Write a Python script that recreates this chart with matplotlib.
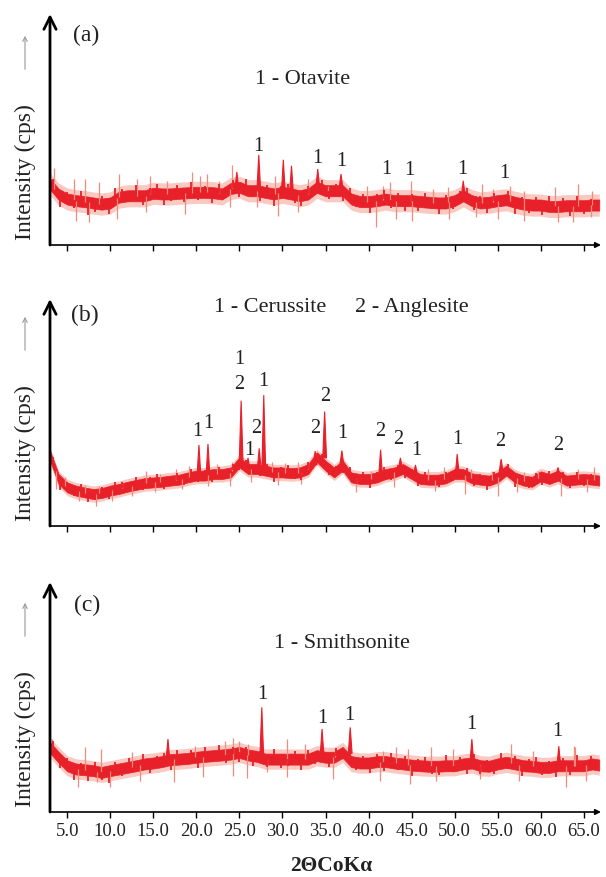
import numpy as np
import matplotlib
matplotlib.use('Agg')
import matplotlib.pyplot as plt

plt.rcParams['font.family'] = ['Liberation Serif', 'DejaVu Serif']

x_grid = list(range(3, 67)) + [66.8]

# band centre of each pattern, arbitrary intensity units (axis = 0..100)
a_mid = [26.4, 22.0, 19.9, 19.2, 18.8, 18.2, 17.7, 18.2, 20.7, 21.3, 21.3, 21.3, 22.4, 22.1,
         22.1, 22.4, 22.6, 22.8, 22.8, 22.6, 22.1, 24.5, 25.0, 23.5, 23.5, 22.8, 22.1, 22.8,
         22.1, 21.3, 22.1, 25.0, 23.5, 23.5, 23.5, 19.9, 18.8, 18.8, 19.2, 19.9, 19.2, 19.2,
         19.2, 18.8, 18.5, 18.2, 18.2, 19.2, 21.3, 19.2, 18.2, 18.5, 19.2, 19.6, 18.5, 17.7,
         17.3, 17.3, 16.7, 16.7, 17.0, 17.0, 17.0, 17.3, 17.3]
b_mid = [31.0, 20.7, 17.0, 15.6, 14.8, 14.1, 14.5, 15.6, 16.3, 17.3, 18.1, 18.9, 19.2, 19.5,
         20.0, 20.4, 21.4, 22.2, 22.2, 22.9, 22.9, 23.6, 28.0, 25.1, 25.1, 24.4, 23.6, 23.6,
         23.3, 23.6, 25.1, 30.3, 26.6, 23.6, 26.6, 21.4, 20.7, 20.7, 21.4, 22.9, 23.6, 25.1,
         22.9, 20.7, 20.4, 20.4, 21.0, 22.9, 22.9, 21.0, 20.4, 20.0, 21.4, 24.4, 21.4, 20.0,
         19.5, 21.9, 20.7, 22.2, 20.0, 20.4, 20.7, 20.4, 20.0]
c_mid = [28.0, 23.8, 20.1, 18.7, 18.4, 18.0, 17.2, 18.0, 18.7, 19.4, 20.1, 20.9, 21.3, 21.9,
         22.8, 23.0, 23.3, 23.8, 24.2, 24.5, 24.8, 25.2, 25.9, 24.8, 24.2, 23.0, 23.0, 23.0,
         23.0, 23.0, 23.0, 24.5, 23.8, 23.8, 25.9, 21.9, 21.3, 21.3, 21.9, 21.9, 21.3, 20.9,
         20.4, 20.1, 19.9, 19.9, 20.1, 20.1, 20.9, 21.3, 20.1, 19.9, 20.9, 21.6, 20.9, 20.1,
         19.9, 19.4, 19.4, 20.1, 20.1, 20.1, 20.1, 20.9, 20.4]

# diffraction peaks: position, base, top
a_peaks = [(24.7, 24.5, 31.6), (27.25, 23.5, 39.0), (30.1, 22.8, 36.9), (31.05, 22.5, 34.3),
           (34.1, 24.5, 32.9), (36.8, 24.5, 30.7), (51.0, 21.0, 27.8)]
b_peaks = [(20.3, 22.2, 35.7), (21.35, 22.2, 36.1), (25.2, 28.0, 55.2), (26.0, 25.1, 30.0),
           (27.3, 25.1, 34.2), (27.83, 25.0, 57.7), (33.8, 27.0, 33.0), (34.9, 30.0, 50.4),
           (36.9, 27.0, 33.2), (41.4, 22.0, 33.6), (43.7, 25.5, 30.0), (45.45, 22.9, 26.9),
           (50.3, 22.9, 31.7), (55.4, 24.0, 29.5), (62.0, 22.2, 25.8)]
c_peaks = [(16.7, 22.5, 31.7), (27.6, 24.0, 45.5), (34.6, 24.5, 36.1), (37.87, 25.5, 36.8),
           (52.0, 21.3, 31.7), (62.1, 20.1, 28.6)]

# longer noise spikes sticking out of the band: position, tip
a_spikes = [(3.45, 33.2), (5.77, 28.6), (7.1, 28.6), (8.67, 27.1), (11.0, 30.7), (13.1, 28.6),
            (14.66, 30.0), (16.6, 27.8), (19.5, 31.5), (20.45, 30.0), (21.2, 30.7), (22.6, 27.8),
            (24.1, 34.5), (29.1, 30.0), (33.0, 28.6), (35.3, 25.7), (39.8, 25.7), (41.7, 25.7),
            (42.5, 27.1), (44.9, 27.8), (47.5, 24.2), (49.2, 24.9), (53.2, 26.4), (54.4, 24.2),
            (56.4, 25.7), (58.1, 23.4), (61.6, 24.9), (64.3, 26.4), (66.0, 23.4),
            (5.97, 10.5), (7.5, 9.8), (10.8, 11.3), (14.1, 14.1), (18.7, 13.4), (23.9, 16.3),
            (27.0, 16.3), (29.5, 12.7), (31.8, 14.1), (40.9, 7.6), (43.2, 11.3), (45.1, 10.5),
            (49.4, 11.3), (52.5, 12.0), (55.0, 11.3), (58.1, 10.5), (62.0, 9.8), (63.7, 9.8),
            (65.8, 12.0)]
b_spikes = [(4.8, 21.4), (7.1, 18.1), (8.7, 17.7), (11.4, 20.0), (14.1, 24.4), (15.8, 22.9),
            (17.6, 25.1), (19.1, 26.6), (22.4, 27.3), (24.1, 28.0), (28.8, 28.0), (30.3, 27.6),
            (31.8, 28.0), (33.0, 28.0), (40.3, 24.4), (46.9, 25.1), (48.8, 25.8), (51.9, 25.1),
            (54.3, 24.4), (58.1, 23.6), (59.7, 24.4), (64.3, 25.1), (66.2, 25.8),
            (3.65, 16.3), (6.35, 11.1), (8.3, 8.9), (10.2, 11.1), (12.5, 13.3), (15.2, 14.8),
            (18.3, 16.3), (21.4, 17.8), (23.9, 17.8), (26.4, 19.2), (29.5, 18.1), (32.2, 18.5),
            (38.6, 14.8), (43.0, 17.0), (47.7, 15.6), (51.2, 14.1), (55.0, 13.3), (57.3, 14.8),
            (62.4, 13.3), (65.4, 14.8)]
c_spikes = [(3.27, 31.7), (7.1, 28.1), (8.9, 27.4), (12.5, 26.0), (19.9, 28.8), (23.3, 31.0),
            (24.3, 32.0), (24.9, 31.0), (26.0, 29.6), (30.5, 31.7), (32.6, 29.6), (36.1, 27.4),
            (41.7, 26.7), (43.2, 28.1), (44.6, 27.4), (47.3, 28.1), (49.8, 27.4), (56.5, 29.6),
            (59.1, 26.7), (63.9, 28.8), (64.0, 28.1),
            (6.2, 10.7), (8.5, 12.9), (10.0, 10.7), (13.5, 13.6), (17.4, 12.9), (20.8, 15.1),
            (24.3, 15.8), (25.9, 14.6), (28.2, 17.3), (30.5, 15.1), (35.9, 14.3), (41.3, 13.6),
            (44.8, 12.2), (47.8, 13.6), (52.9, 14.3), (57.5, 13.6), (62.9, 10.7), (65.2, 13.6)]

# short ragged noise at every 0.8 deg from 3.4 deg: deviation from band centre
jitter_x = np.arange(3.4, 66.0, 0.8)
a_dev = [3.5, -4.5, 2.5, -3.0, 4.0, -5.0, -3.5, 3.0, -4.0, 4.5,
         3.0, -2.5, 4.0, -3.5, 2.5, 3.5, -4.0, -2.5, 3.0, -3.5,
         4.0, -3.0, 2.5, -4.0, 3.5, -2.5, 3.0, -3.5, 4.0, -2.5,
         -3.5, 3.0, -4.5, 2.5, 3.5, -3.0, -4.0, 3.0, -2.5, 3.5,
         -3.0, 2.5, -4.0, 3.5, -2.5, 3.0, -4.5, 2.5, 3.5, -3.0,
         3.0, -4.0, 2.5, -3.5, 3.5, -2.5, -4.0, 3.0, -3.0, 2.5,
         3.5, -3.5, 2.5, -4.0, 3.0, -2.5, 3.5, -4.5, 2.5, -3.0,
         3.0, -3.5, 4.0, -2.5, 3.0, -4.0, 3.5, -3.0, 2.5]
b_dev = [3.0, -3.5, 2.0, -2.5, 3.0, -3.5, -2.5, 2.5, -3.0, 3.0,
         2.5, -2.0, 3.0, -2.5, 2.0, 3.0, -3.0, -2.0, 2.5, -2.5,
         3.0, -2.5, 2.0, -3.0, 2.5, -2.0, 2.5, -3.0, 3.0, -2.0,
         -2.5, 2.5, -3.5, 2.0, 3.0, -2.5, -3.0, 2.5, -2.0, 3.0,
         -2.5, 2.0, -3.0, 3.0, -2.0, 2.5, -3.5, 2.0, 3.0, -2.5,
         2.5, -3.0, 2.0, -3.0, 3.0, -2.0, -3.0, 2.5, -2.5, 2.0,
         3.0, -3.0, 2.0, -3.5, 2.5, -2.0, 3.0, -3.5, 2.0, -2.5,
         2.5, -3.0, 3.0, -2.0, 2.5, -3.0, 3.0, -2.5, 2.0]
c_dev = [4.0, -3.5, 3.0, -4.5, 2.5, -4.0, 3.5, -3.0, -4.5, 3.0,
         -3.0, 3.5, -2.5, 4.0, -3.5, 2.5, 3.0, -4.0, 3.5, -2.5,
         3.0, -4.0, 3.5, -2.5, 4.0, -3.0, 2.5, -3.5, 3.0, -4.0,
         2.5, -3.0, 4.0, -3.5, -2.5, 3.0, -4.0, 3.5, -3.0, 2.5,
         -3.5, 3.0, -2.5, 4.0, -3.0, 2.5, -4.0, 3.0, -3.5, 3.5,
         -2.5, 3.0, -4.0, 2.5, 3.5, -3.0, -3.5, 4.0, -2.5, 3.0,
         -4.0, 3.5, -3.0, 2.5, -3.5, 4.0, -2.5, 3.0, -4.0, 2.5,
         3.5, -3.0, 2.5, -4.0, 3.0, -3.5, 4.0, -2.5, 3.0]

# peak labels: text, x, y
a_labels = [('1', 27.25, 43.0), ('1', 34.1, 38.0), ('1', 36.8, 36.5), ('1', 42.1, 33.2),
            ('1', 44.7, 32.6), ('1', 50.9, 33.2), ('1', 55.8, 31.2)]
b_labels = [('1', 20.07, 42.0), ('1', 21.34, 45.7), ('2', 24.97, 62.6), ('1', 24.97, 73.6),
            ('1', 27.83, 64.0), ('2', 26.9, 43.5), ('1', 26.1, 33.6), ('2', 33.86, 43.5),
            ('2', 34.94, 57.7), ('1', 36.94, 41.0), ('2', 41.3, 42.0), ('2', 43.5, 38.6),
            ('1', 45.5, 33.6), ('1', 50.3, 38.6), ('2', 55.3, 37.6), ('2', 62.0, 36.1)]
c_labels = [('1', 27.6, 51.7), ('1', 34.59, 41.2), ('1', 37.8, 42.6), ('1', 51.9, 38.3),
            ('1', 61.9, 35.3)]

# phase legends: text, x, y
a_head = [('1 - Otavite', 32.3, 71.9)]
b_head = [('1 - Cerussite', 28.6, 96.9), ('2 - Anglesite', 45.0, 96.9)]
c_head = [('1 - Smithsonite', 36.9, 73.9)]

panel_tags = ['(a)', '(b)', '(c)']
tag_pos = [(7.25, 91.3), (7.1, 93.4), (7.35, 90.4)]
xticks = [5, 10, 15, 20, 25, 30, 35, 40, 45, 50, 55, 60, 65]

RED = '#e8202a'
PALE = '#f48a78'
INK = '#222222'

W, H = 606, 878
fig = plt.figure(figsize=(W / 100, H / 100), dpi=100)

# pixel boxes of the three axes: (top, bottom)
boxes = [(15, 246), (300, 527), (583, 813)]
left_px, right_px = 50, 601

panels = [
    (a_mid, a_peaks, a_spikes, a_dev, a_labels, a_head, 2.4, 4.8),
    (b_mid, b_peaks, b_spikes, b_dev, b_labels, b_head, 2.2, 3.6),
    (c_mid, c_peaks, c_spikes, c_dev, c_labels, c_head, 2.4, 4.4),
]

for i, (mid, peaks, spikes, dev, labels, heads, half, fringe) in enumerate(panels):
    top, bot = boxes[i]
    ax = fig.add_axes([left_px / W, 1 - bot / H, (right_px - left_px) / W, (bot - top) / H])
    ax.set_xlim(3, 67)
    ax.set_ylim(0, 100)
    xs = np.array(x_grid, dtype=float)
    m = np.array(mid)

    ax.fill_between(xs, m - fringe, m + fringe, color=PALE, alpha=0.45, lw=0)
    sx = np.array([s[0] for s in spikes])
    st = np.array([s[1] for s in spikes])
    ax.vlines(sx, np.interp(sx, xs, m), st, color=PALE, lw=0.9)
    ax.fill_between(xs, m - half, m + half, color=RED, lw=0.5, edgecolor=RED)
    jm = np.interp(jitter_x, xs, m)
    ax.vlines(jitter_x, jm, jm + 1.15 * np.array(dev), color=RED, lw=1.3)
    for pos, base, tip in peaks:
        ax.fill([pos - 0.22, pos, pos + 0.22], [base, tip, base], color=RED, lw=0.8)

    for txt, x, y in labels:
        ax.text(x, y, txt, ha='center', va='center', fontsize=14.5, color=INK)
    for txt, x, y in heads:
        ax.text(x, y, txt, ha='center', va='center', fontsize=16, color=INK)
    ax.text(tag_pos[i][0], tag_pos[i][1], panel_tags[i], ha='center', va='center',
            fontsize=17, color=INK)

    for side in ['top', 'right', 'left', 'bottom']:
        ax.spines[side].set_visible(False)
    ax.annotate('', xy=(0, 1), xytext=(0, 0), xycoords='axes fraction',
                arrowprops=dict(arrowstyle='->', lw=2.0, color='k', mutation_scale=22,
                                shrinkA=0, shrinkB=0))
    ax.annotate('', xy=(1, 0), xytext=(0, 0), xycoords='axes fraction',
                arrowprops=dict(arrowstyle='-|>', lw=1.2, color='k', mutation_scale=8,
                                shrinkA=0, shrinkB=0))
    ax.set_yticks([])
    ax.set_xticks(xticks)
    ax.tick_params(axis='x', direction='out', length=4, width=1, color='k')
    if i < 2:
        ax.set_xticklabels([])
    else:
        ax.set_xticklabels([f'{t:.1f}' for t in xticks], fontsize=13.5, color=INK)

    # y label with the small grey arrow above it
    fig.text(25 / W, 1 - (bot - 6) / H, 'Intensity (cps)', rotation=90, ha='center',
             va='bottom', fontsize=17, color=INK)
    fig.add_artist(matplotlib.patches.FancyArrowPatch(
        (25 / W, 1 - (bot - 173) / H), (25 / W, 1 - (bot - 212) / H),
        transform=fig.transFigure, arrowstyle='->', color='#9a9a9a', lw=0.8,
        mutation_scale=8))

fig.text(331 / W, 1 - 866 / H, '2ΘCoKα', ha='center', va='center', fontsize=15.5,
         fontweight='bold', color=INK)

fig.savefig('out.png', dpi=100)
